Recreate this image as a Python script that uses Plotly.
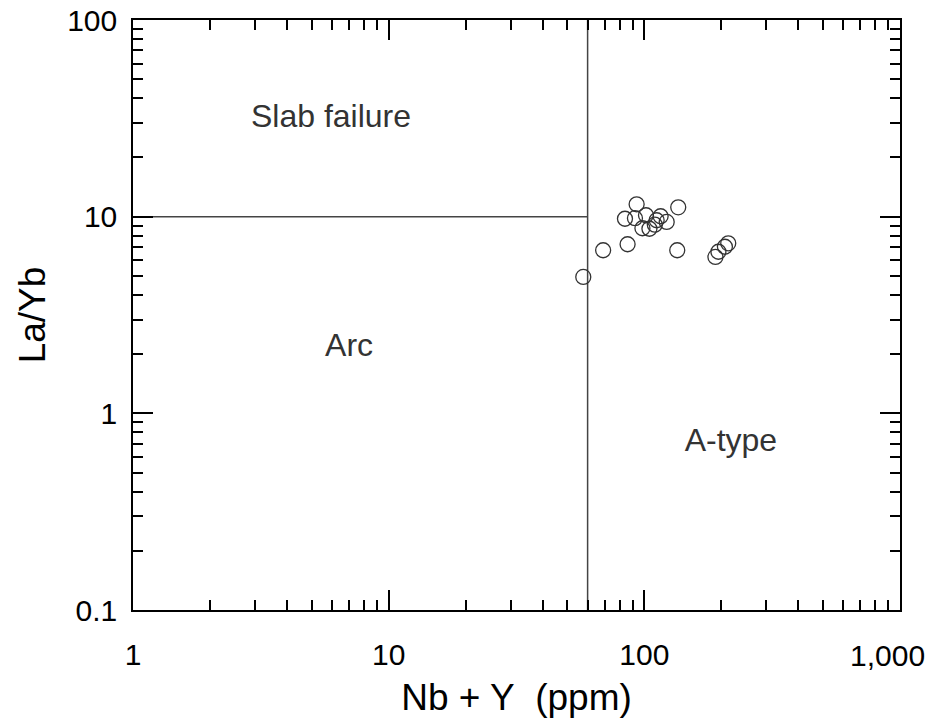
import plotly.graph_objects as go

nb_y = [57.7, 69.0, 86.0, 134.5, 93.3, 84.0, 91.9, 101.5, 115.8, 111.7, 109.9,
        122.3, 135.7, 98.3, 104.7, 189.7, 194.9, 206.6, 212.9]
la_yb = [4.94, 6.75, 7.24, 6.75, 11.56, 9.76, 9.82, 10.17, 10.05, 9.59, 9.10,
         9.40, 11.16, 8.73, 8.68, 6.24, 6.63, 7.03, 7.32]

x_ticks = [1, 10, 100, 1000]
x_ticktext = ["1", "10", "100", "1,000"]
y_ticks = [0.1, 1, 10, 100]
y_ticktext = ["0.1", "1", "10", "100"]

boundary_x = 60
boundary_y = 10

labels = ["Slab failure", "Arc", "A-type"]
label_x = [5.95, 7.0, 218]
label_y = [31.3, 2.14, 0.706]

FONT = "Liberation Sans, Arial, sans-serif"

def minor_vals(lo, hi):
    out = []
    d = lo
    while d < hi * 0.999:
        for k in range(2, 10):
            out.append(d * k)
        d *= 10
    return out

fig = go.Figure()

fig.add_trace(go.Scatter(x=[1, boundary_x], y=[boundary_y, boundary_y], mode="lines",
                         line=dict(color="#444444", width=1.5), hoverinfo="skip", showlegend=False))
fig.add_trace(go.Scatter(x=[boundary_x, boundary_x], y=[0.1, 100], mode="lines",
                         line=dict(color="#444444", width=1.5), hoverinfo="skip", showlegend=False))

fig.add_trace(go.Scatter(x=nb_y, y=la_yb, mode="markers",
                         marker=dict(symbol="circle-open", size=15, color="#333333",
                                     line=dict(width=1.3, color="#333333")),
                         showlegend=False))

fig.add_trace(go.Scatter(x=label_x, y=label_y, mode="text", text=labels,
                         textfont=dict(family=FONT, size=32, color="#333333"),
                         showlegend=False, hoverinfo="skip"))

axis_font = dict(family=FONT, size=30, color="black")

# last x tick label is drawn right-aligned near the edge so it stays inside the page
x_axis_ticktext = x_ticktext[:-1] + [""]
fig.add_annotation(x=3, xref="x", y=0, yref="paper", text=x_ticktext[-1],
                   showarrow=False, xanchor="right", yanchor="middle",
                   xshift=27, yshift=-45, font=axis_font)

fig.update_layout(
    width=933, height=724,
    margin=dict(l=133, r=33, t=20, b=114, autoexpand=False),
    plot_bgcolor="white", paper_bgcolor="white",
    xaxis=dict(type="log", range=[0, 3], tickvals=x_ticks, ticktext=x_axis_ticktext,
               ticks="inside", ticklen=20, tickwidth=1.5, tickcolor="black",
               showline=True, linecolor="black", linewidth=1.5, mirror="ticks",
               showgrid=False, zeroline=False, tickfont=axis_font, ticklabelstandoff=17,
               automargin=False, ticklabeloverflow="allow",
               minor=dict(tickvals=minor_vals(1, 1000), ticks="inside", ticklen=10,
                          tickwidth=1.5, tickcolor="black", showgrid=False),
               title=dict(text="Nb + Y\u00a0\u00a0(ppm)", standoff=14,
                          font=dict(family=FONT, size=37, color="black"))),
    yaxis=dict(type="log", range=[-1, 2], tickvals=y_ticks, ticktext=y_ticktext,
               ticks="inside", ticklen=20, tickwidth=1.5, tickcolor="black",
               showline=True, linecolor="black", linewidth=1.5, mirror="ticks",
               showgrid=False, zeroline=False, tickfont=axis_font, ticklabelstandoff=8,
               automargin=False, ticklabeloverflow="allow",
               minor=dict(tickvals=minor_vals(0.1, 100), ticks="inside", ticklen=10,
                          tickwidth=1.5, tickcolor="black", showgrid=False),
               title=dict(text="La/Yb", standoff=10,
                          font=dict(family=FONT, size=37, color="black"))),
)

fig.write_html("out.html", config={"displayModeBar": False},
               post_script="document.body.style.margin='0';document.body.style.overflow='hidden';")
